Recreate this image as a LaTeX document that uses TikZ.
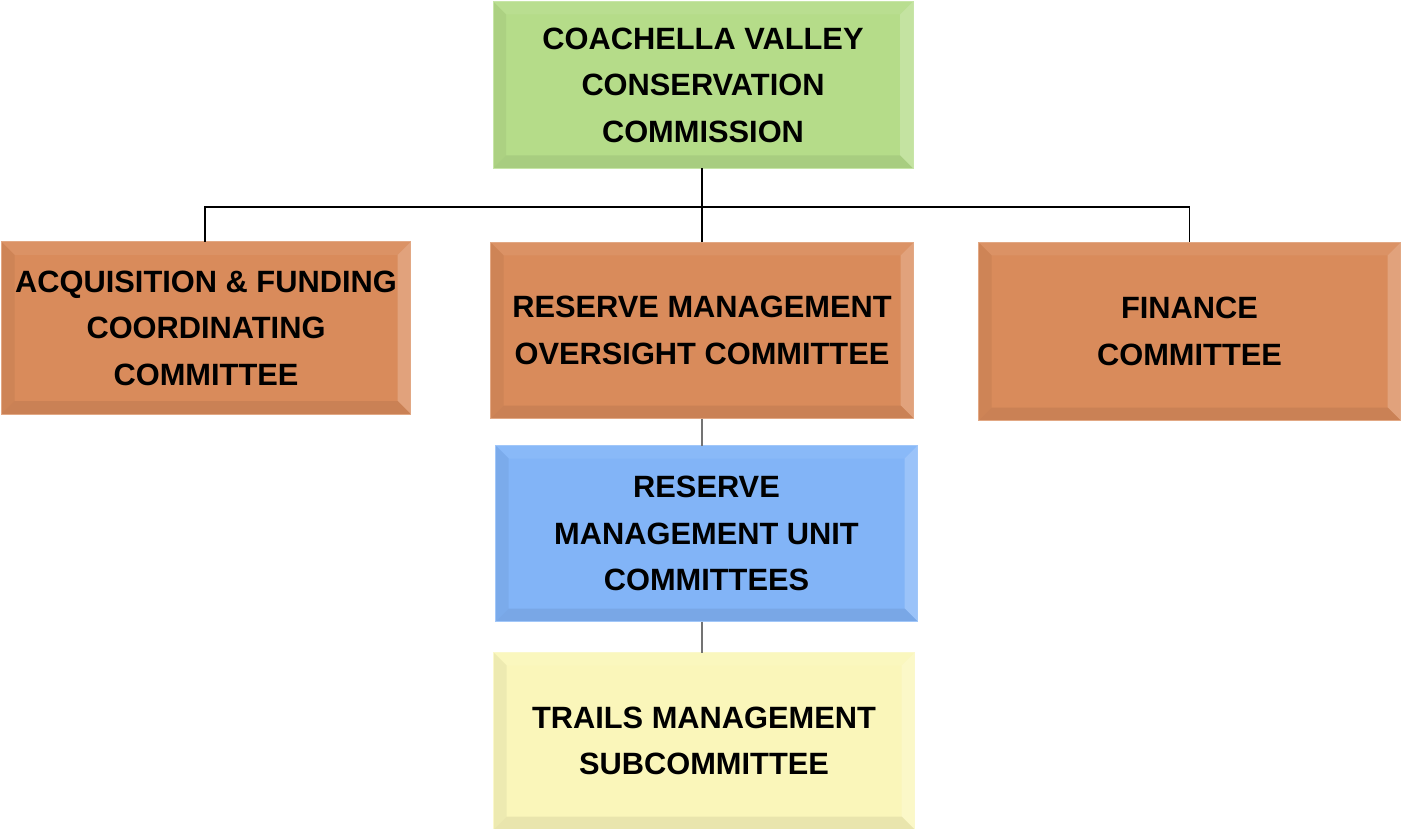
\documentclass[tikz,border=0pt]{standalone}
\usepackage{fontspec}
\setmainfont{Liberation Sans}
\usetikzlibrary{calc}

\definecolor{greenbase}{HTML}{B5DC89}
\definecolor{orangebase}{HTML}{D98B5B}
\definecolor{bluebase}{HTML}{82B4F7}
\definecolor{yellowbase}{HTML}{FAF6BA}

\tikzset{
  orgbox/.style={rectangle, inner sep=0pt, align=center,
    font=\fontsize{30.8}{46.5}\selectfont\bfseries},
  busline/.style={black, line width=1.8pt},
  subline/.style={black!55, line width=1.4pt},
}

% bevelled box: name, centre, width, height, base colour, text
\newcommand{\bevelnode}[6]{%
  \node[orgbox, minimum width=#3pt, minimum height=#4pt,
        fill=#5, draw=#5!75!white, line width=1pt] (#1) at (#2) {};
  \path let \p1=(#1.north west), \p2=(#1.south east) in
    coordinate (#1-a) at (\x1,\y1) coordinate (#1-b) at (\x2,\y1)
    coordinate (#1-c) at (\x2,\y2) coordinate (#1-d) at (\x1,\y2)
    coordinate (#1-ia) at (\x1+13pt,\y1-13pt) coordinate (#1-ib) at (\x2-13pt,\y1-13pt)
    coordinate (#1-ic) at (\x2-13pt,\y2+13pt) coordinate (#1-id) at (\x1+13pt,\y2+13pt);
  \fill[#5!94!white] (#1-a) -- (#1-b) -- (#1-ib) -- (#1-ia) -- cycle;
  \fill[#5!95!black] (#1-a) -- (#1-ia) -- (#1-id) -- (#1-d) -- cycle;
  \fill[#5!80!white] (#1-b) -- (#1-c) -- (#1-ic) -- (#1-ib) -- cycle;
  \fill[#5!93!black] (#1-d) -- (#1-id) -- (#1-ic) -- (#1-c) -- cycle;
  \draw[#5!75!white, line width=1pt] (#1-a) rectangle (#1-c);
  \node[orgbox] at (#1.center) {#6};
}

\begin{document}
\begin{tikzpicture}[x=1pt, y=-1pt]
  \useasboundingbox (0,0) rectangle (1401,829);

  % commission and its committees
  \bevelnode{ccc}{703,85}{419}{166}{greenbase}{COACHELLA VALLEY\\CONSERVATION\\COMMISSION}
  \bevelnode{acq}{206,328}{408}{171}{orangebase}{ACQUISITION \& FUNDING\\COORDINATING\\COMMITTEE}
  \bevelnode{rmo}{702,330.5}{422}{175}{orangebase}{RESERVE MANAGEMENT\\OVERSIGHT COMMITTEE}
  \bevelnode{fin}{1189.5,331.5}{421}{177}{orangebase}{FINANCE\\COMMITTEE}
  \bevelnode{rmu}{706.5,533.5}{421}{175}{bluebase}{RESERVE\\MANAGEMENT UNIT\\COMMITTEES}
  \bevelnode{trl}{704,741}{420}{176}{yellowbase}{TRAILS MANAGEMENT\\SUBCOMMITTEE}

  % reporting lines
  \coordinate (bus) at (702,207);
  \draw[busline] (ccc.south -| bus) -- (bus);
  \draw[busline] (acq.north -| 205,0) |- (bus) -| (fin.north);
  \draw[busline] (rmo.north) -- (rmo.north |- bus);
  \draw[subline] (rmo.south) -- (rmo.south |- rmu.north);
  \draw[subline] (rmu.south -| rmo.south) -- (trl.north -| rmo.south);
\end{tikzpicture}
\end{document}
